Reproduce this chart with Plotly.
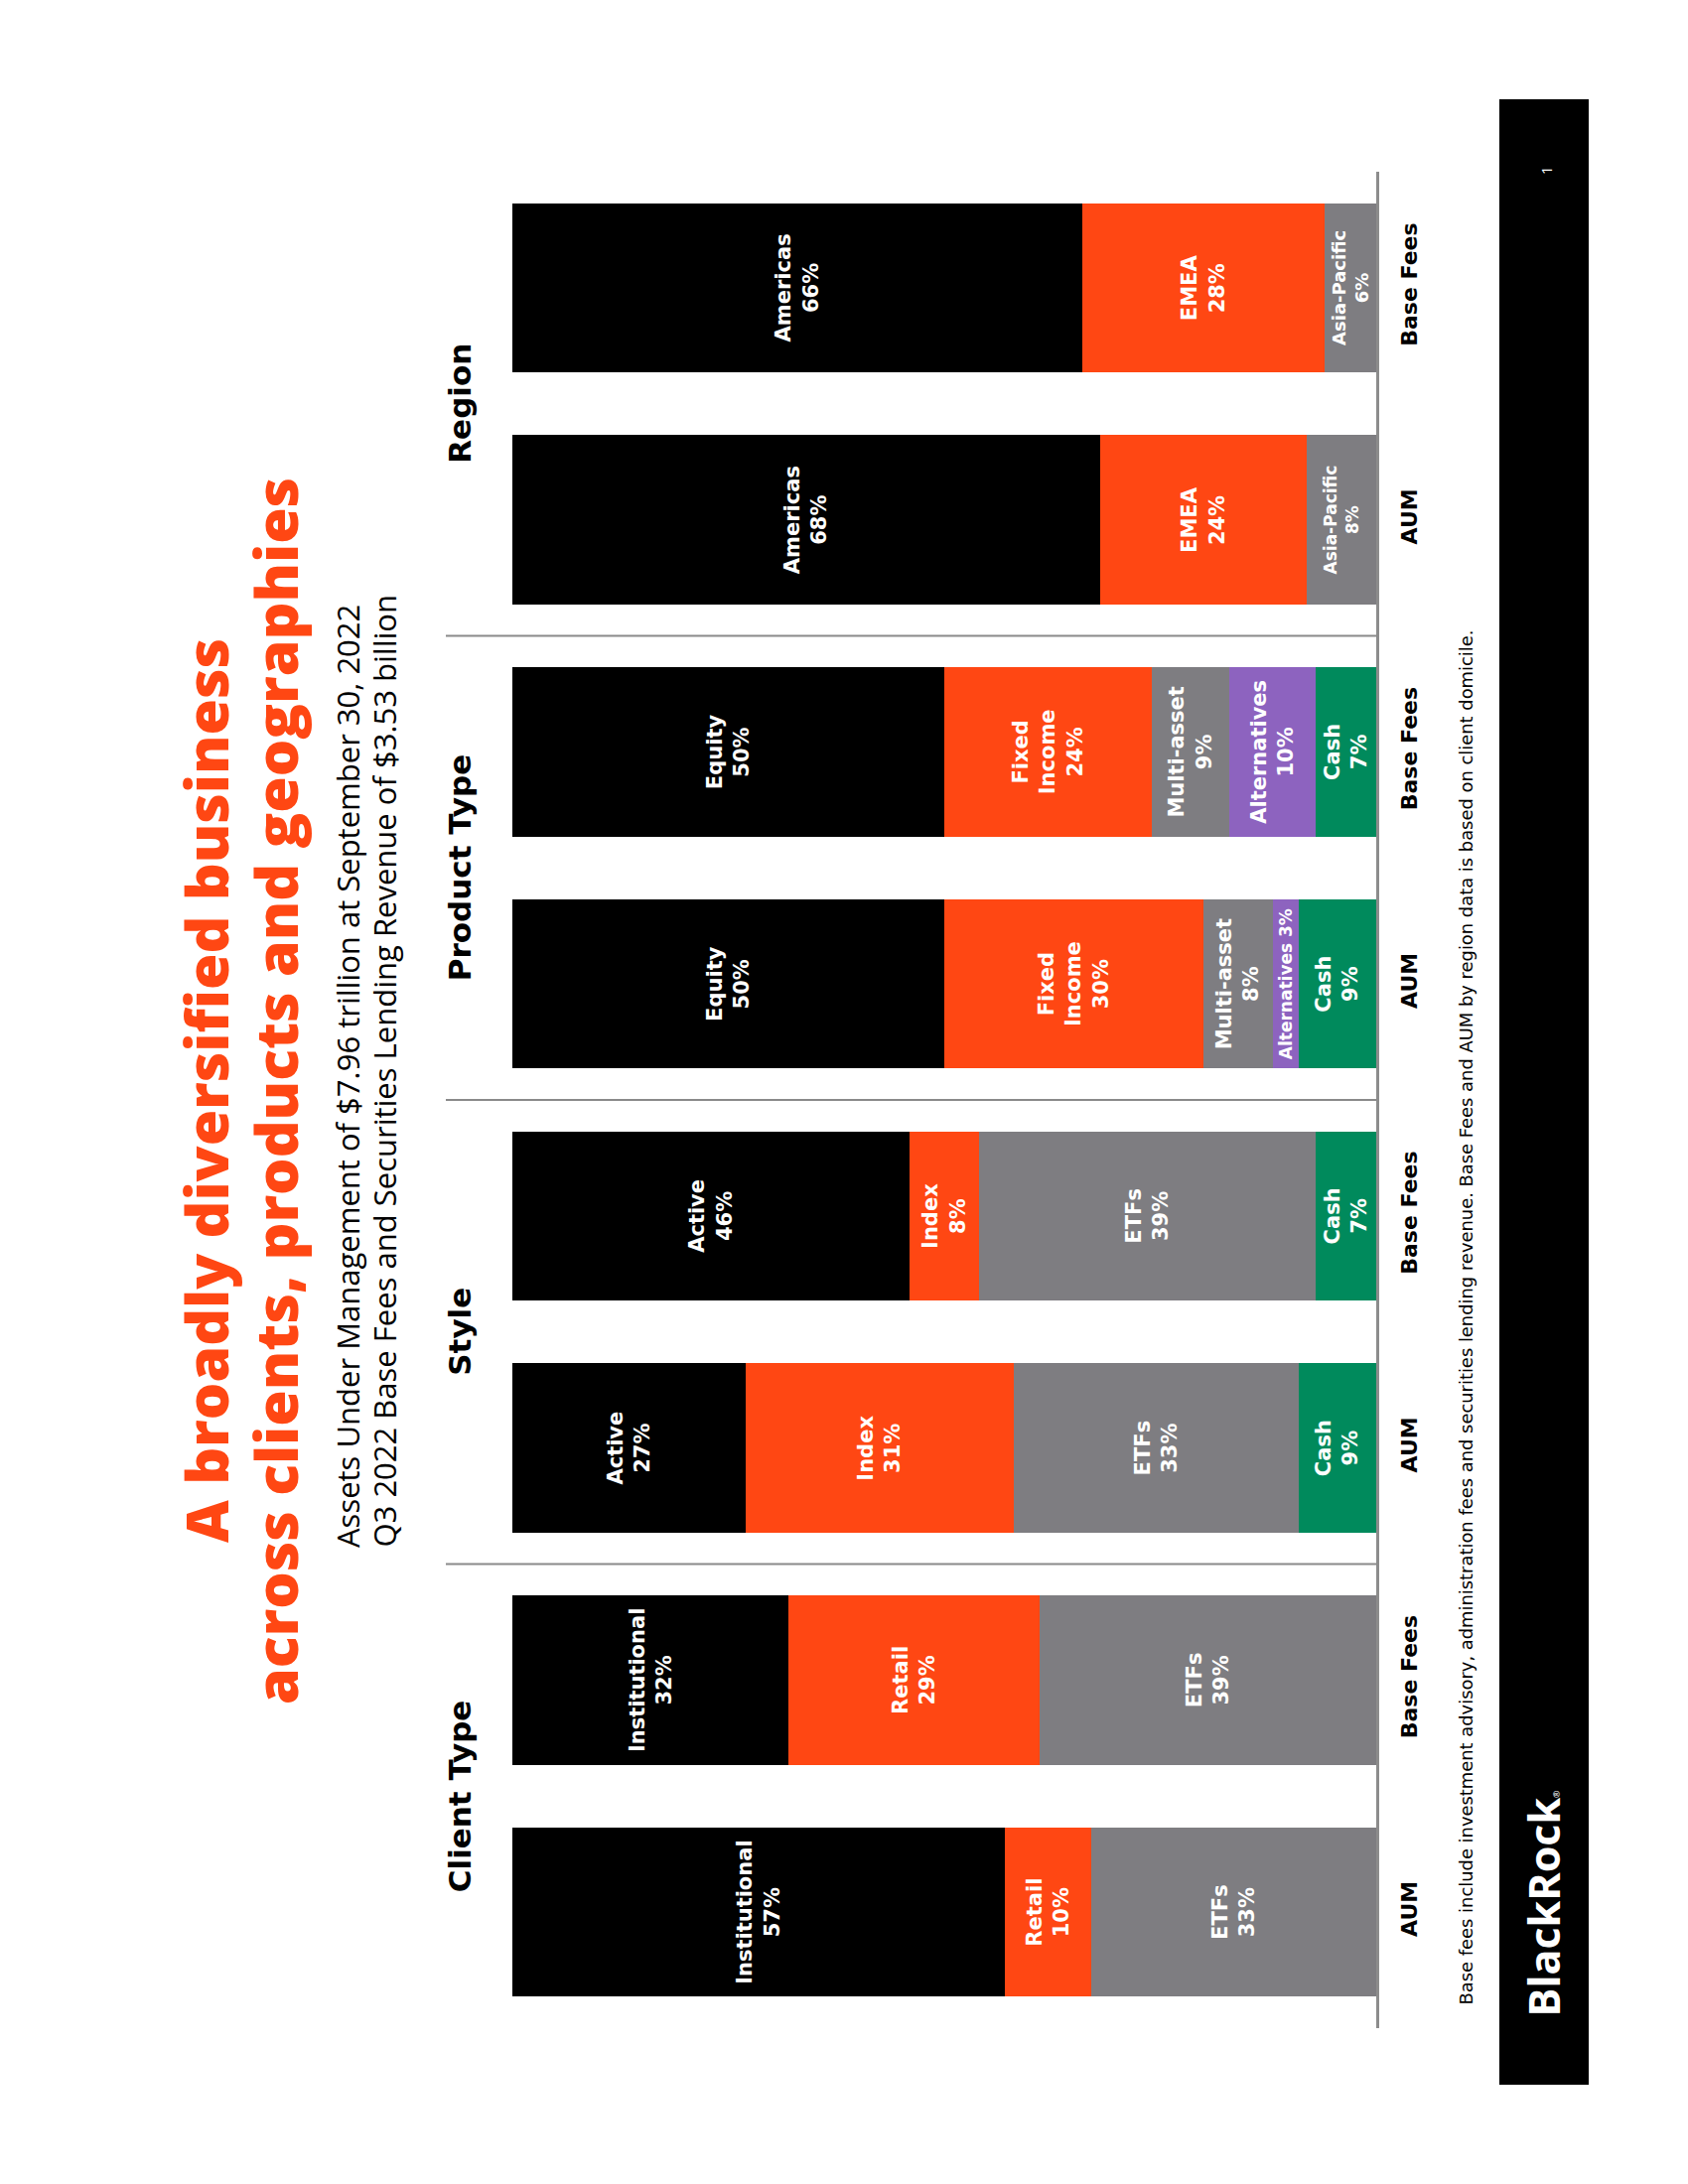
import plotly.graph_objects as go

# ---------------- data ----------------
groups = ["Client Type", "Style", "Product Type", "Region"]
tick_labels = ["AUM", "Base Fees", "AUM", "Base Fees", "AUM", "Base Fees", "AUM", "Base Fees"]

# segment layers, listed from the bar base (axis) outwards
cash_vals = [0, 0, 9, 7, 9, 7, 0, 0]
cash_names = ["", "", "Cash", "Cash", "Cash", "Cash", "", ""]

alt_vals = [0, 0, 0, 0, 3, 10, 0, 0]
alt_names = ["", "", "", "", "Alternatives", "Alternatives", "", ""]

gray_vals = [33, 39, 33, 39, 8, 9, 8, 6]
gray_names = ["ETFs", "ETFs", "ETFs", "ETFs", "Multi-asset", "Multi-asset", "Asia-Pacific", "Asia-Pacific"]

orange_vals = [10, 29, 31, 8, 30, 24, 24, 28]
orange_names = ["Retail", "Retail", "Index", "Index", "Fixed<br>Income", "Fixed<br>Income", "EMEA", "EMEA"]

black_vals = [57, 32, 27, 46, 50, 50, 68, 66]
black_names = ["Institutional", "Institutional", "Active", "Active", "Equity", "Equity", "Americas", "Americas"]

title_lines = ["A broadly diversified business", "across clients, products and geographies"]
subtitle_lines = ["Assets Under Management of $7.96 trillion at September 30, 2022",
                  "Q3 2022 Base Fees and Securities Lending Revenue of $3.53 billion"]
footnote = ("Base fees include investment advisory, administration fees and securities lending revenue. "
            "Base Fees and AUM by region data is based on client domicile.")

# ---------------- styles ----------------
ORANGE = "#FF4713"
GRAY = "#7E7D81"
PURPLE = "#8D63BF"
GREEN = "#008A5C"
BLACK = "#000000"
FONT = "Open Sans"
WIDE = "DejaVu Sans"

W, H = 1700, 2200
OFF = 8  # default page body margin
L, R, T, B = 449, 1386, 173, 2043  # plot area in page pixels
PW, PH = R - L, B - T


def xp(px):
    return (px - L) / PW


def yp(py):
    return (B - py) / PH


def seg_text(names, vals):
    out = []
    for n, v in zip(names, vals):
        if not n or v == 0:
            out.append("")
        elif v < 5:
            out.append(f"{n} {v}%")
        else:
            out.append(f"{n}<br>{v}%")
    return out


def seg_sizes(names, vals):
    sizes = []
    for n, v in zip(names, vals):
        if v < 5:
            sizes.append(17)
        elif n == "Asia-Pacific":
            sizes.append(17 if v > 6 else 18)
        else:
            sizes.append(21)
    return sizes


layers = [
    (cash_vals, cash_names, GREEN),
    (alt_vals, alt_names, PURPLE),
    (gray_vals, gray_names, GRAY),
    (orange_vals, orange_names, ORANGE),
    (black_vals, black_names, BLACK),
]

ypos = list(range(len(tick_labels)))

fig = go.Figure()
for vals, names, color in layers:
    fig.add_trace(go.Bar(
        x=vals, y=ypos, orientation="h",
        marker=dict(color=color, line=dict(width=0)),
        text=seg_text(names, vals),
        textposition="inside",
        insidetextanchor="middle",
        textangle=-90,
        constraintext="none",
        textfont=dict(family=WIDE, color="white", size=seg_sizes(names, vals), weight="bold"),
        hoverinfo="skip",
    ))

shapes = []
# separators between groups
for k in range(1, len(groups)):
    shapes.append(dict(type="line", xref="paper", yref="y", x0=0, x1=1,
                       y0=2 * k - 0.5, y1=2 * k - 0.5,
                       line=dict(color="#8a8a8a", width=2)))
# black side band
shapes.append(dict(type="rect", xref="paper", yref="paper",
                   x0=xp(1510), x1=xp(1600), y0=yp(2100), y1=yp(100),
                   fillcolor="black", line=dict(width=0), layer="above"))

annotations = []
# group headers
for k, g in enumerate(groups):
    annotations.append(dict(text=f"<b>{g}</b>", xref="paper", yref="y", x=xp(463), y=2 * k + 0.5,
                            xanchor="center", yanchor="middle", textangle=-90, showarrow=False,
                            font=dict(family=WIDE, size=31, color="black")))
# title
for px, line in zip([207, 277], title_lines):
    annotations.append(dict(text=line, xref="paper", yref="paper", x=xp(px), y=yp(1099),
                            xanchor="center", yanchor="middle", textangle=-90, showarrow=False,
                            font=dict(family=FONT, size=59, color=ORANGE, weight=800)))
# subtitle
for px, line in zip([350, 386], subtitle_lines):
    annotations.append(dict(text=line, xref="paper", yref="paper", x=xp(px), y=yp(1561),
                            xanchor="center", yanchor="bottom", textangle=-90, showarrow=False,
                            font=dict(family=FONT, size=31, color="black")))
# footnote
annotations.append(dict(text=footnote, xref="paper", yref="paper", x=xp(1476), y=yp(2022),
                        xanchor="center", yanchor="bottom", textangle=-90, showarrow=False,
                        font=dict(family=WIDE, size=17.9, color="black")))
# logo
annotations.append(dict(text="<b>BlackRock</b><span style='font-size:9px'>®</span>",
                        xref="paper", yref="paper", x=xp(1554), y=yp(2034),
                        xanchor="center", yanchor="bottom", textangle=-90, showarrow=False,
                        font=dict(family=FONT, size=43, color="white")))
# page number
annotations.append(dict(text="1", xref="paper", yref="paper", x=xp(1557), y=yp(172),
                        xanchor="center", yanchor="middle", textangle=-90, showarrow=False,
                        font=dict(family=FONT, size=15, color="white")))

fig.update_layout(
    width=W, height=H, autosize=False,
    margin=dict(l=L - OFF, r=W - (R - OFF), t=T - OFF, b=H - (B - OFF), pad=0),
    barmode="stack", bargap=0.27,
    showlegend=False,
    plot_bgcolor="white", paper_bgcolor="white",
    xaxis=dict(range=[107.7, 0], visible=False, showgrid=False, zeroline=False, fixedrange=True),
    yaxis=dict(range=[-0.5, 7.5], tickvals=ypos, ticktext=tick_labels, side="right",
               showline=True, linecolor="#8c8c8c", linewidth=3, showgrid=False, zeroline=False,
               ticks="", tickangle=-90, ticklabelstandoff=12,
               tickfont=dict(family=WIDE, size=22, color="black", weight="bold")),
    shapes=shapes,
    annotations=annotations,
)

fig.write_html("out.html")
